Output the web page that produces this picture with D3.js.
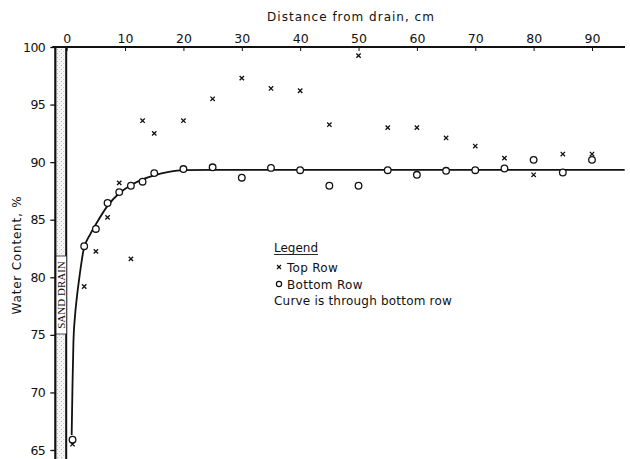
<!DOCTYPE html>
<html><head><meta charset="utf-8">
<script src="https://cdn.jsdelivr.net/npm/d3@7"></script>
<style>body{margin:0;background:#fff}svg{display:block}text{font-family:"DejaVu Sans",sans-serif;fill:#111}</style>
</head><body><svg id="c" width="630" height="459"></svg>
<script>
const xTicks = [0,10,20,30,40,50,60,70,80,90];
const yTicks = [65,70,75,80,85,90,95,100];
const topDist = [1,3,5,7,9,11,13,15,20,25,30,35,40,45,50,55,60,65,70,75,80,85,90];
const topRow = [65.5,79.2,82.25,85.2,88.2,81.6,93.6,92.5,93.6,95.5,97.3,96.4,96.2,93.25,99.25,93.0,93.0,92.1,91.4,90.35,88.9,90.7,90.7];
const botDist = [1,3,5,7,9,11,13,15,20,25,30,35,40,45,50,55,60,65,70,75,80,85,90];
const botRow = [65.9,82.7,84.2,86.45,87.4,87.95,88.3,89.05,89.4,89.55,88.65,89.5,89.3,87.95,87.95,89.3,88.9,89.25,89.3,89.45,90.2,89.1,90.2];
const curveDist = [0.85,1.0,1.15,1.4,1.75,2.2,2.9,4.0,5.0,7.0,9.0,11.0,13.0,15.0,17.5,20,25,40,95.6];
const curveVal = [66.3,70.8,74.3,76.5,78.3,80.1,82.4,83.7,84.6,86.2,87.3,88.0,88.5,88.85,89.15,89.3,89.32,89.32,89.32];
const legendLines = ["Top Row","Bottom Row","Curve is through bottom row"];

const svg = d3.select("#c");
const x = d3.scaleLinear().domain([0,90]).range([66.7,592]);
const y = d3.scaleLinear().domain([65,100]).range([450,47]);
const axisX = x(-1.95);

// stipple pattern
const defs = svg.append("defs");
const pat = defs.append("pattern").attr("id","stip").attr("patternUnits","userSpaceOnUse").attr("width",4).attr("height",4);
pat.append("rect").attr("width",4).attr("height",4).attr("fill","#f4f4f4");
pat.append("rect").attr("x",1).attr("y",1).attr("width",1).attr("height",1).attr("fill","#b8b8b8");
pat.append("rect").attr("x",3).attr("y",3).attr("width",1).attr("height",1).attr("fill","#cfcfcf");

// sand drain band
svg.append("rect").attr("x",axisX).attr("y",y(100)).attr("width",x(0)-axisX).attr("height",459-y(100)).attr("fill","url(#stip)");
svg.append("line").attr("x1",x(0)-0.5).attr("x2",x(0)-0.5).attr("y1",y(100)).attr("y2",459).attr("stroke","#111").attr("stroke-width",2);
// label box
const bx0 = axisX, bw = x(0)-axisX;
svg.append("rect").attr("x",bx0).attr("y",256).attr("width",bw).attr("height",78).attr("fill","#fff").attr("stroke","#222").attr("stroke-width",0.8);
svg.append("text").attr("transform",`translate(${bx0+bw/2+4},295) rotate(-90)`).attr("text-anchor","middle")
  .style("font-size","11px").style("font-family","'Liberation Serif',serif").text("SAND DRAIN");

// Y axis
const yAxis = svg.append("g").attr("transform",`translate(${axisX},0)`)
  .call(d3.axisLeft(y).tickValues(yTicks).tickSize(5).tickPadding(5).tickFormat(d3.format("d")));
yAxis.select(".domain").remove();
yAxis.selectAll(".tick line").attr("stroke","#111").attr("stroke-width",1.3);
yAxis.selectAll("text").style("font-size","12.5px").attr("fill","#111").style("letter-spacing","-0.5px");
svg.append("line").attr("x1",axisX).attr("x2",axisX).attr("y1",y(100)-1).attr("y2",459).attr("stroke","#111").attr("stroke-width",2.2);

// Top X axis
const xAxis = svg.append("g").attr("transform",`translate(0,${y(100)})`)
  .call(d3.axisTop(x).tickValues(xTicks).tickSize(-4).tickPadding(4).tickFormat(d3.format("d")));
xAxis.select(".domain").remove();
xAxis.selectAll(".tick line").attr("stroke","#111").attr("stroke-width",1);
xAxis.selectAll("text").style("font-size","12.5px").attr("fill","#111");
svg.append("line").attr("x1",axisX-3).attr("x2",625).attr("y1",y(100)).attr("y2",y(100)).attr("stroke","#111").attr("stroke-width",1.8);

// titles
svg.append("text").attr("x",351).attr("y",21).attr("text-anchor","middle").style("font-size","12px").style("letter-spacing","1px").text("Distance from drain, cm");
svg.append("text").attr("transform","translate(21,255) rotate(-90)").attr("text-anchor","middle").style("font-size","12px").style("letter-spacing","0.8px").text("Water Content, %");

// curve
const line = d3.line().x(d=>x(d[0])).y(d=>y(d[1])).curve(d3.curveMonotoneX);
svg.append("path").datum(curveDist.map((d,i)=>[d,curveVal[i]])).attr("d",line).attr("fill","none").attr("stroke","#111").attr("stroke-width",1.8);

// bottom row circles
svg.append("g").selectAll("circle").data(botDist.map((d,i)=>[d,botRow[i]])).join("circle")
  .attr("cx",d=>x(d[0])).attr("cy",d=>y(d[1])).attr("r",3.3).attr("fill","#fff").attr("stroke","#111").attr("stroke-width",1.3);

// top row x marks
const sym = d3.symbol().type(d3.symbolX).size(14);
svg.append("g").selectAll("path").data(topDist.map((d,i)=>[d,topRow[i]])).join("path")
  .attr("transform",d=>`translate(${x(d[0])},${y(d[1])})`).attr("d",sym()).attr("fill","none").attr("stroke","#111").attr("stroke-width",1.3);

// legend
const lg = svg.append("g");
lg.append("text").attr("x",274).attr("y",252).style("font-size","12px").text("Legend");
lg.append("line").attr("x1",274).attr("x2",318).attr("y1",254.5).attr("y2",254.5).attr("stroke","#111").attr("stroke-width",0.9);
lg.append("path").attr("transform","translate(279,267)").attr("d",d3.symbol().type(d3.symbolX).size(12)()).attr("fill","none").attr("stroke","#111").attr("stroke-width",1.2);
lg.append("text").attr("x",287).attr("y",272).style("font-size","12px").style("letter-spacing","0.3px").text(legendLines[0]);
lg.append("circle").attr("cx",279).attr("cy",284).attr("r",2.6).attr("fill","none").attr("stroke","#111").attr("stroke-width",1.2);
lg.append("text").attr("x",287).attr("y",289).style("font-size","12px").style("letter-spacing","0.3px").text(legendLines[1]);
lg.append("text").attr("x",274).attr("y",305).style("font-size","12px").style("letter-spacing","0.2px").text(legendLines[2]);
</script></body></html>
